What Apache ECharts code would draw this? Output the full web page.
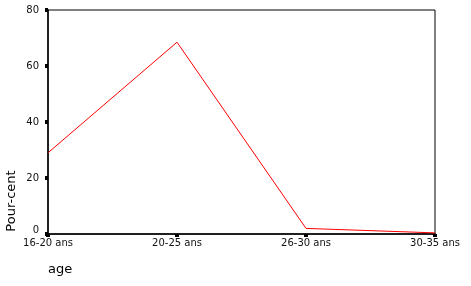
<!DOCTYPE html>
<html><head><meta charset="utf-8">
<script src="https://cdn.jsdelivr.net/npm/echarts@6/dist/echarts.min.js"></script>
<style>html,body{margin:0;padding:0;background:#fff}#c{width:471px;height:286px}</style>
</head><body><div id="c"></div>
<script>
const categories = ['16-20 ans', '20-25 ans', '26-30 ans', '30-35 ans'];
const percentValues = [29.0, 68.5, 2.0, 0.4];
const yTicks = [0, 20, 40, 60, 80];

const FONT = 'DejaVu Sans, sans-serif';
const chart = echarts.init(document.getElementById('c'), null, {renderer: 'canvas'});
chart.setOption({
  animation: false,
  backgroundColor: '#fff',
  grid: {left: 48, right: 36, top: 10, bottom: 52, show: true, borderColor: '#000', borderWidth: 1, backgroundColor: 'transparent'},
  xAxis: {
    type: 'category', data: categories, boundaryGap: false,
    axisLine: {lineStyle: {color: '#000', width: 1.5}},
    axisTick: {show: true, length: 3, lineStyle: {color: '#000', width: 4}},
    axisLabel: {color: '#111', fontFamily: FONT, fontSize: 10, margin: 4, interval: 0, showMinLabel: true, showMaxLabel: true},
    splitLine: {show: false}
  },
  yAxis: {
    type: 'value', min: yTicks[0], max: yTicks[yTicks.length-1], interval: 20,
    axisLine: {show: true, lineStyle: {color: '#000', width: 1.5}},
    axisTick: {show: true, length: 3, lineStyle: {color: '#000', width: 4}},
    axisLabel: {color: '#111', fontFamily: FONT, fontSize: 10, margin: 9,
      formatter: v => v === 0 ? '{z|0}' : String(v),
      rich: {z: {fontFamily: FONT, fontSize: 10, color: '#111', padding: [0, 0, 7, 0]}}},
    splitLine: {show: false}
  },
  graphic: [
    {type: 'text', x: 12, y: 201, rotation: Math.PI/2, style: {text: 'Pour-cent', fill: '#000', font: '13px DejaVu Sans, sans-serif', align: 'center', verticalAlign: 'middle'}},
    {type: 'text', x: 48, y: 270, style: {text: 'age', fill: '#000', font: '13px DejaVu Sans, sans-serif', align: 'left', verticalAlign: 'middle'}}
  ],
  series: [{
    type: 'line', data: percentValues, showSymbol: false, symbol: 'none',
    lineStyle: {color: '#ff0000', width: 1}
  }]
});
</script></body></html>
